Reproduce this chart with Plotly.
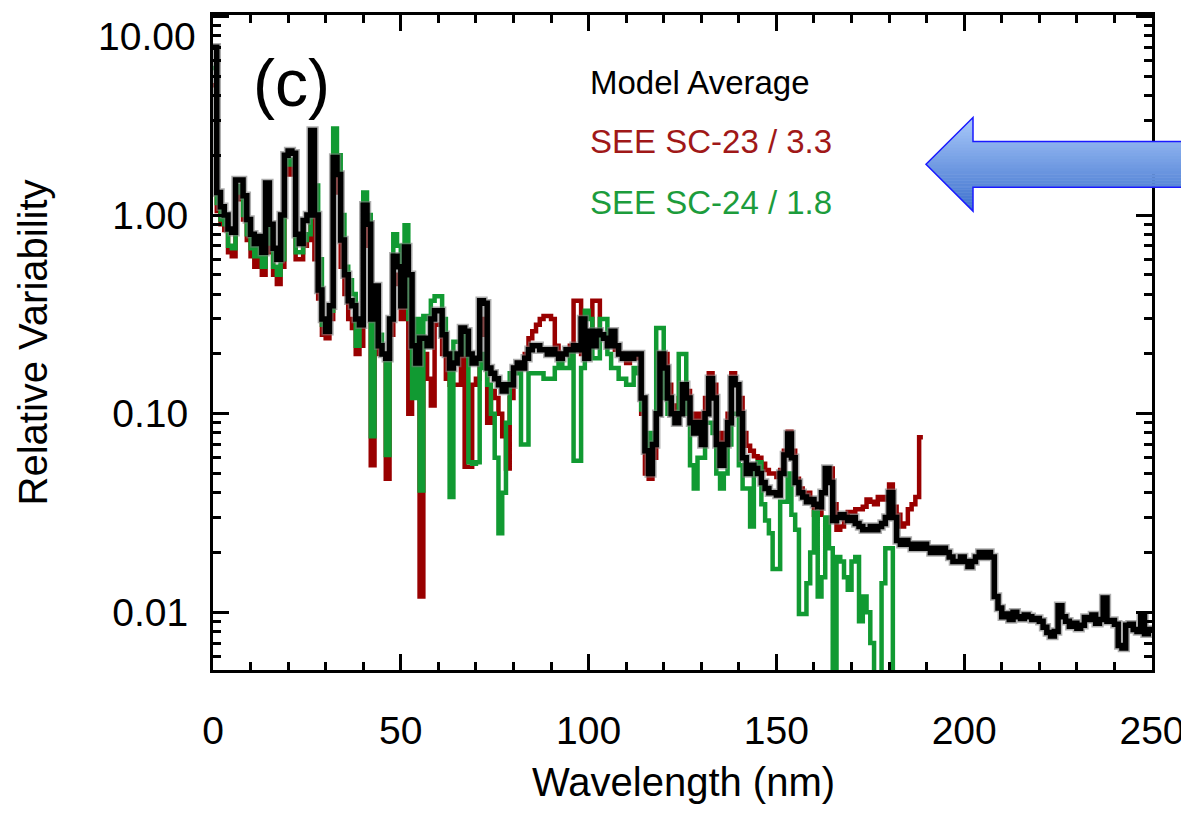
'''
relative variability spectra, panel (c)
'''

import plotly.graph_objects as go
import numpy as np

# 1-nm wavelength bins (left edges) and values
wavelength = list(range(0, 251))

model_avg = [
    7.0, 1.3, 1.1, 1.0, 0.85, 0.82, 1.5, 1.5, 1.25, 0.95,
    0.8, 0.72, 0.78, 0.65, 1.45, 0.9, 0.68, 0.6, 1.0, 2.0,
    2.1, 2.05, 0.8, 0.72, 0.94, 1.0, 2.67, 1.0, 0.42, 0.3,
    0.26, 0.35, 1.95, 1.6, 0.75, 0.5, 0.37, 0.35, 0.3, 0.28,
    1.12, 0.9, 0.3, 0.44, 0.22, 0.2, 0.19, 0.3, 0.62, 0.55,
    0.35, 0.69, 0.5, 0.22, 0.18, 0.24, 0.24, 0.22, 0.3, 0.33,
    0.33, 0.25, 0.2, 0.17, 0.18, 0.2, 0.27, 0.26, 0.2, 0.18,
    0.19, 0.37, 0.36, 0.17, 0.16, 0.15, 0.14, 0.13, 0.14, 0.14,
    0.17, 0.18, 0.17, 0.19, 0.21, 0.22, 0.22, 0.21, 0.21, 0.2,
    0.21, 0.2, 0.19, 0.2, 0.21, 0.21, 0.22, 0.21, 0.3, 0.19,
    0.26, 0.22, 0.26, 0.25, 0.24, 0.22, 0.26, 0.22, 0.2, 0.19,
    0.2, 0.19, 0.2, 0.2, 0.12, 0.065, 0.05, 0.07, 0.1, 0.2,
    0.17, 0.12, 0.1, 0.09, 0.1, 0.14, 0.12, 0.09, 0.08, 0.09,
    0.07, 0.1, 0.15, 0.12, 0.07, 0.055, 0.07, 0.09, 0.15, 0.14,
    0.1, 0.06, 0.05, 0.055, 0.053, 0.05, 0.045, 0.042, 0.04, 0.04,
    0.039, 0.05, 0.062, 0.079, 0.06, 0.045, 0.04, 0.038, 0.036, 0.037,
    0.035, 0.034, 0.04, 0.053, 0.045, 0.029, 0.03, 0.031, 0.03, 0.029,
    0.03, 0.028, 0.027, 0.026, 0.026, 0.027, 0.026, 0.027, 0.028, 0.03,
    0.04, 0.03, 0.023, 0.022, 0.023, 0.022, 0.021, 0.022, 0.021, 0.022,
    0.021, 0.02, 0.021, 0.02, 0.021, 0.02, 0.019, 0.018, 0.018, 0.019,
    0.018, 0.017, 0.018, 0.019, 0.02, 0.019, 0.02, 0.019, 0.012, 0.0105,
    0.0095, 0.0098, 0.0092, 0.01, 0.0095, 0.0093, 0.0097, 0.0095, 0.0092, 0.0093,
    0.009, 0.0084, 0.0079, 0.0076, 0.008, 0.0108, 0.0095, 0.009, 0.0085, 0.0088,
    0.0083, 0.0086, 0.0094, 0.0092, 0.0097, 0.0088, 0.0092, 0.0118, 0.009, 0.0091,
    0.0087, 0.0068, 0.0066, 0.0086, 0.0087, 0.0082, 0.008, 0.0095, 0.0078, 0.0082,
]

see_sc23 = [
    4.5, 1.05, 0.9, 0.84, 0.65, 0.62, 1.2, 1.3, 0.95, 0.75,
    0.62, 0.55, 0.62, 0.5, 1.2, 0.65, 0.5, 0.45, 0.55, 1.6,
    1.8, 1.6, 0.6, 0.6, 0.7, 0.75, 2.1, 0.6, 0.38, 0.25,
    0.24, 0.3, 1.6, 1.3, 0.55, 0.4, 0.3, 0.27, 0.2, 0.22,
    0.9, 0.7, 0.055, 0.3, 0.2, 0.2, 0.047, 0.25, 0.5, 0.45,
    0.3, 0.55, 0.1, 0.15, 0.2, 0.012, 0.2, 0.15, 0.11, 0.28,
    0.28, 0.2, 0.15, 0.14, 0.14, 0.14, 0.2, 0.054, 0.054, 0.14,
    0.15, 0.3, 0.25, 0.09, 0.13, 0.12, 0.1, 0.077, 0.053, 0.12,
    0.17, 0.18, 0.17, 0.2, 0.24, 0.26, 0.28, 0.3, 0.31, 0.31,
    0.3, 0.22, 0.2, 0.2, 0.21, 0.22, 0.37, 0.37, 0.2, 0.2,
    0.22, 0.37, 0.37, 0.25, 0.24, 0.22, 0.24, 0.21, 0.2, 0.19,
    0.18, 0.19, 0.2, 0.19, 0.1, 0.05, 0.047, 0.06, 0.1, 0.2,
    0.2, 0.14, 0.11, 0.1, 0.12, 0.14, 0.13, 0.1, 0.09, 0.1,
    0.09, 0.12, 0.16, 0.14, 0.08, 0.07, 0.08, 0.1, 0.16, 0.14,
    0.12, 0.08, 0.069, 0.065, 0.061, 0.06, 0.056, 0.052, 0.05, 0.05,
    0.048, 0.052, 0.065, 0.081, 0.065, 0.047, 0.042, 0.04, 0.04, 0.036,
    0.031, 0.031, 0.04, 0.053, 0.053, 0.035, 0.026, 0.027, 0.031, 0.032,
    0.032, 0.033, 0.033, 0.034, 0.037, 0.036, 0.035, 0.038, 0.037, 0.038,
    0.044, 0.034, 0.031, 0.027, 0.028, 0.033, 0.035, 0.038, 0.076,
]

see_sc24 = [
    5.5, 1.15, 0.95, 0.9, 0.7, 0.68, 1.3, 1.4, 1.0, 0.8,
    0.68, 0.62, 0.68, 0.55, 1.3, 0.72, 0.55, 0.5, 0.6, 1.8,
    1.9, 1.8, 0.65, 0.65, 0.75, 0.8, 2.2, 1.41, 0.6, 0.28,
    0.27, 0.33, 2.73, 2.0, 1.0, 0.55, 0.47, 0.4, 0.22, 0.3,
    1.3, 1.0, 0.077, 0.35, 0.25, 0.2, 0.062, 0.3, 0.8, 0.7,
    0.4, 0.89, 0.3, 0.12, 0.3, 0.041, 0.31, 0.3, 0.37, 0.39,
    0.39, 0.3, 0.2, 0.038, 0.23, 0.23, 0.25, 0.2, 0.057, 0.056,
    0.057, 0.2, 0.17, 0.14, 0.1, 0.06, 0.025, 0.04, 0.09, 0.16,
    0.16, 0.16, 0.07, 0.07, 0.16, 0.16, 0.16, 0.16, 0.15, 0.15,
    0.15, 0.17, 0.18, 0.17, 0.17, 0.2, 0.058, 0.058, 0.17, 0.33,
    0.3, 0.19, 0.19, 0.3, 0.3, 0.2, 0.17, 0.17, 0.15, 0.15,
    0.14, 0.14, 0.17, 0.16, 0.105, 0.08, 0.06, 0.08, 0.27, 0.27,
    0.12, 0.1, 0.1, 0.09, 0.2, 0.2, 0.1, 0.055, 0.042, 0.06,
    0.06, 0.09, 0.09, 0.08, 0.05, 0.042, 0.05, 0.07, 0.1, 0.1,
    0.055, 0.042, 0.042, 0.027, 0.05, 0.057, 0.035, 0.029, 0.025, 0.0165,
    0.0165, 0.036, 0.036, 0.05, 0.031, 0.026, 0.0098, 0.0098, 0.014, 0.02,
    0.032, 0.012, 0.015, 0.03, 0.021, 0.003, 0.019, 0.018, 0.015, 0.013,
    0.018, 0.019, 0.009, 0.012, 0.01, 0.007, 0.003, 0.003, 0.014, 0.021,
    0.021, 0.003, 0.003, 0.003, 0.003, 0.003, 0.003, 0.003, 0.003, 0.003,
]

legend_labels = ['Model Average', 'SEE SC-23 / 3.3', 'SEE SC-24 / 1.8']
y_tickvals = [0.01, 0.1, 1, 10]
y_ticktext = ['0.01', '0.10', '1.00', '']

RED = '#990000'
GREEN = '#119a32'
FONT = 'Liberation Sans, Arial, Helvetica, sans-serif'

# page coordinates (the html body adds an 8px margin around the figure)
PAGE_W, PAGE_H, OFF = 1189, 821, 8
L, R, T, B = 213, 1152, 12, 670


def step(vals):
    x = wavelength[:len(vals) + 1]
    y = list(vals) + [vals[-1]]
    return x, y


def px(x):
    return (x - L) / (R - L)


def py(y):
    return (B - y) / (B - T)


fig = go.Figure()

x, y = step(see_sc23)
fig.add_trace(go.Scatter(x=x, y=y, mode='lines', line=dict(color=RED, width=4.5, shape='hv')))
x, y = step(see_sc24)
fig.add_trace(go.Scatter(x=x, y=y, mode='lines', line=dict(color=GREEN, width=4.5, shape='hv')))
x, y = step(model_avg)
fig.add_trace(go.Scatter(x=x, y=y, mode='lines', line=dict(color='rgba(120,120,120,0.6)', width=8.5, shape='hv')))
fig.add_trace(go.Scatter(x=x, y=y, mode='lines', line=dict(color='black', width=5.5, shape='hv')))

# blue arrow with vertical gradient, built from thin strips
tip_x, tip_y = 926, 162
head_x, head_top, head_bot = 973, 115, 209
shaft_top, shaft_bot, end_x = 139, 185, 1200


def left_edge(yy):
    return tip_x + abs(yy - tip_y) * (head_x - tip_x) / (tip_y - head_top)


def right_edge(yy):
    return end_x if shaft_top <= yy <= shaft_bot else head_x


c_top = np.array([170, 202, 250])
c_bot = np.array([60, 112, 205])
breaks = sorted(set(list(np.arange(head_top, head_bot, 3.0)) + [shaft_top, tip_y, shaft_bot, head_bot]))
shapes = []
for y0, y1 in zip(breaks[:-1], breaks[1:]):
    ym = 0.5 * (y0 + y1)
    t = (ym - head_top) / (head_bot - head_top)
    c = c_top + (c_bot - c_top) * t
    col = 'rgb(%d,%d,%d)' % tuple(c)
    r_ = right_edge(ym)
    y1e = y1 + 0.6
    path = 'M %f %f L %f %f L %f %f L %f %f Z' % (
        px(left_edge(y0)), py(y0), px(r_), py(y0),
        px(r_), py(y1e), px(left_edge(y1e)), py(y1e))
    shapes.append(dict(type='path', path=path, xref='paper', yref='paper',
                       fillcolor=col, line=dict(width=0), layer='above'))

outline = [(tip_x, tip_y), (head_x, head_top), (head_x, shaft_top), (end_x, shaft_top),
           (end_x, shaft_bot), (head_x, shaft_bot), (head_x, head_bot)]
path = 'M ' + ' L '.join('%f %f' % (px(a), py(b)) for a, b in outline) + ' Z'
shapes.append(dict(type='path', path=path, xref='paper', yref='paper',
                   fillcolor='rgba(0,0,0,0)', line=dict(color='#1a1aff', width=1.5), layer='above'))

annotations = [
    dict(text='(c)', x=px(291), y=py(80), xref='paper', yref='paper', showarrow=False,
         xanchor='center', yanchor='middle', font=dict(family=FONT, size=66, color='black')),
    dict(text=legend_labels[0], x=px(588), y=py(80), xref='paper', yref='paper', showarrow=False,
         xanchor='left', yanchor='middle', font=dict(family=FONT, size=33, color='black')),
    dict(text=legend_labels[1], x=px(588), y=py(139), xref='paper', yref='paper', showarrow=False,
         xanchor='left', yanchor='middle', font=dict(family=FONT, size=33, color='#a01818')),
    dict(text=legend_labels[2], x=px(588), y=py(200), xref='paper', yref='paper', showarrow=False,
         xanchor='left', yanchor='middle', font=dict(family=FONT, size=33, color='#1c9c3c')),
    dict(text='10.00', x=px(198), y=py(34), xref='paper', yref='paper', showarrow=False,
         xanchor='right', yanchor='middle', font=dict(family=FONT, size=39, color='black')),
    dict(text='Wavelength (nm)', x=px(683), y=py(783), xref='paper', yref='paper', showarrow=False,
         xanchor='center', yanchor='middle', font=dict(family=FONT, size=40, color='black')),
    dict(text='Relative Variability', x=px(32), y=py(341), xref='paper', yref='paper', showarrow=False,
         textangle=-90, xanchor='center', yanchor='middle', font=dict(family=FONT, size=40, color='black')),
]

minor_y = [k * 10.0 ** e for e in range(-3, 2) for k in range(2, 10)]

fig_w, fig_h = PAGE_W - OFF, PAGE_H - OFF
fig.update_layout(
    width=fig_w, height=fig_h,
    margin=dict(l=L - OFF, r=fig_w - (R - OFF), t=T - OFF, b=fig_h - (B - OFF)),
    paper_bgcolor='white', plot_bgcolor='white',
    showlegend=False,
    shapes=shapes,
    annotations=annotations,
    xaxis=dict(
        range=[0, 250], showgrid=False, zeroline=False,
        showline=True, linecolor='black', linewidth=3, mirror='allticks',
        ticks='inside', ticklen=16, tickwidth=3, tickcolor='black',
        tick0=0, dtick=50, ticklabelstandoff=24,
        tickfont=dict(family=FONT, size=39, color='black'),
        minor=dict(ticks='inside', ticklen=8, tickwidth=3, tickcolor='black', dtick=10),
    ),
    yaxis=dict(
        type='log', range=[np.log10(0.01) - 58 / 199.5, 201 / 199.5],
        showgrid=False, zeroline=False,
        showline=True, linecolor='black', linewidth=3, mirror='allticks',
        ticks='inside', ticklen=16, tickwidth=3, tickcolor='black',
        tickvals=y_tickvals, ticktext=y_ticktext, ticklabelstandoff=14,
        tickfont=dict(family=FONT, size=39, color='black'),
        minor=dict(ticks='inside', ticklen=8, tickwidth=3, tickcolor='black', tickvals=minor_y),
    ),
)

fig.write_html('out.html')
